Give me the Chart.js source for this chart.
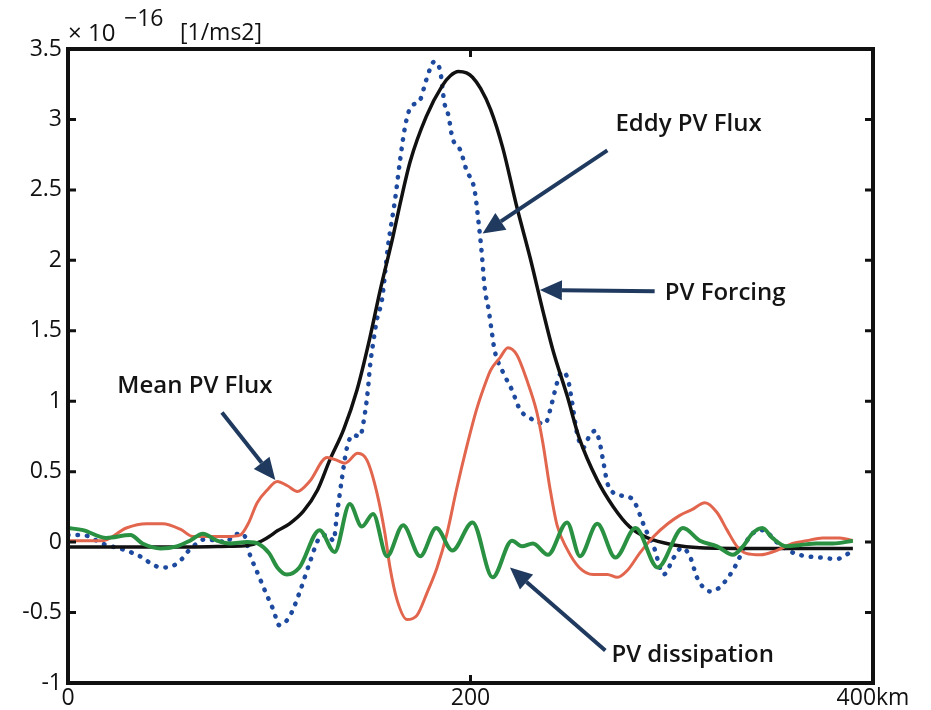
<!DOCTYPE html>
<html lang="en">
<head>
    <meta charset="UTF-8">
    <title>PV budget</title>
    <style>
        body {
            margin: 0;
            padding: 0;
            background-color: #fff;
        }

        .chart-box {
            position: relative;
            width: 931px;
            height: 710px;
        }
    </style>
</head>
<body>
    <div class="chart-box">
        <canvas id="pvChart"></canvas>
    </div>

    <script src="https://cdn.jsdelivr.net/npm/chart.js"></script>
    <script>
        // Data (x in km, y in 1e-16 1/ms2)
        const forcingKm = [0, 20, 40, 60, 80, 89, 95, 100, 104, 110, 117, 124, 130, 137, 143.6, 150, 155, 161.5, 165, 170, 178, 186, 190, 194, 198, 201, 205, 210, 216, 223, 229.6, 236, 241, 248, 254, 263, 271, 279, 288, 301, 314, 340, 370, 390];
        const forcingVal = [-0.035, -0.035, -0.035, -0.035, -0.03, -0.025, 0.0, 0.04, 0.08, 0.13, 0.22, 0.37, 0.58, 0.8, 1.08, 1.45, 1.78, 2.17, 2.4, 2.7, 3.02, 3.24, 3.31, 3.34, 3.33, 3.3, 3.22, 3.07, 2.8, 2.38, 2.02, 1.64, 1.36, 1.04, 0.74, 0.44, 0.25, 0.11, 0.03, -0.02, -0.04, -0.045, -0.045, -0.045];

        const eddyKm = [0, 7.5, 17, 29, 37, 42, 47, 52, 56.6, 60, 64, 68, 74, 79, 82, 87, 90.4, 94.5, 98, 102, 105, 110, 115, 120, 125, 129, 132, 133.5, 136, 138.6, 141.6, 145, 147.6, 149, 150, 151.6, 153.5, 156, 159, 162.5, 165, 167.5, 170, 175, 178, 182, 185, 187, 189, 191, 195, 198, 202, 204, 205.6, 207, 209, 210.5, 212, 216, 220.6, 224.6, 229.6, 237, 240.5, 243, 245.5, 248.5, 250.4, 253, 256, 259, 262, 264, 266, 268, 271, 275, 280, 283, 285, 287, 291, 296, 301, 305, 309, 312.5, 315, 319, 324, 327.5, 330.4, 333, 337, 340, 345, 353, 361, 367, 374, 382, 388];
        const eddyVal = [0.05, 0.05, -0.01, -0.06, -0.11, -0.16, -0.18, -0.17, -0.12, -0.06, -0.01, 0.02, 0.01, 0.0, 0.05, 0.06, -0.09, -0.23, -0.35, -0.48, -0.59, -0.53, -0.36, -0.15, 0.03, 0.05, 0.01, 0.18, 0.44, 0.67, 0.76, 0.75, 0.92, 1.08, 1.24, 1.41, 1.58, 1.72, 2.1, 2.43, 2.71, 2.95, 3.08, 3.14, 3.28, 3.41, 3.34, 3.12, 3.03, 2.87, 2.78, 2.64, 2.5, 2.27, 2.05, 1.81, 1.65, 1.5, 1.36, 1.21, 1.08, 0.94, 0.88, 0.84, 0.99, 1.13, 1.21, 1.15, 1.0, 0.77, 0.67, 0.75, 0.79, 0.72, 0.57, 0.42, 0.35, 0.33, 0.31, 0.24, 0.16, 0.09, -0.03, -0.23, -0.11, -0.04, -0.1, -0.25, -0.31, -0.35, -0.32, -0.26, -0.2, -0.13, 0.0, 0.06, 0.085, -0.01, -0.08, -0.1, -0.11, -0.12, -0.08];

        const meanKm = [0, 17, 29, 39, 47, 56, 62, 70.5, 79, 85.5, 89.5, 94, 99, 104, 109, 114, 120, 128.7, 133.7, 137.6, 144, 148.6, 153.5, 157.5, 160, 163.5, 168.5, 173.4, 178.4, 183.4, 188.3, 193, 198, 203, 208, 210, 214.7, 218.6, 223, 228, 233, 236, 239.5, 243, 248, 254, 261, 268, 273, 278, 284, 291, 298, 304, 310, 316.5, 322.5, 327.5, 332.4, 337, 344, 352, 360, 367, 375, 383.6, 390];
        const meanVal = [0.01, 0.01, 0.1, 0.13, 0.13, 0.09, 0.04, 0.04, 0.04, 0.05, 0.13, 0.28, 0.37, 0.43, 0.4, 0.36, 0.43, 0.6, 0.58, 0.56, 0.63, 0.58, 0.35, 0.06, -0.18, -0.41, -0.55, -0.52, -0.36, -0.18, 0.06, 0.37, 0.67, 0.94, 1.15, 1.22, 1.31, 1.38, 1.33, 1.15, 0.92, 0.7, 0.38, 0.12, -0.05, -0.18, -0.23, -0.23, -0.25, -0.2, -0.08, 0.04, 0.13, 0.19, 0.23, 0.28, 0.21, 0.085, -0.03, -0.08, -0.09, -0.06, -0.01, 0.01, 0.03, 0.03, 0.01];

        const dissKm = [0, 7.5, 19, 31, 37, 46, 54, 60.6, 67, 74, 80.5, 89, 95, 100, 104, 108.7, 115, 125, 132.5, 140, 146, 151.6, 158.5, 166.5, 175, 183, 191, 201, 211, 220.6, 225.6, 231, 238.5, 248, 254.4, 263, 272, 282, 293, 305.6, 314, 322.5, 330.4, 335.4, 340, 345, 350, 357, 364, 372, 380, 390];
        const dissVal = [0.1, 0.085, 0.03, 0.05, -0.01, -0.045, -0.03, 0.01, 0.06, 0.01, -0.01, 0.0, -0.015, -0.08, -0.18, -0.23, -0.18, 0.085, -0.07, 0.27, 0.11, 0.2, -0.1, 0.12, -0.1, 0.1, -0.06, 0.14, -0.25, 0.01, -0.03, -0.01, -0.09, 0.14, -0.1, 0.13, -0.11, 0.1, -0.18, 0.1, 0.01, -0.03, -0.09, -0.03, 0.06, 0.1, 0.03, -0.03, -0.02, -0.01, -0.01, 0.01];

        const xTicks = [0, 200, 400];
        const xTickLabels = ['0', '200', '400km'];
        const yTicks = [-1, -0.5, 0, 0.5, 1, 1.5, 2, 2.5, 3, 3.5];
        const yTickLabels = ['-1', '-0.5', '0', '0.5', '1', '1.5', '2', '2.5', '3', '3.5'];

        const FONT = "'Open Sans', sans-serif";

        function toPoints(xs, ys) {
            return xs.map(function(x, i) { return { x: x, y: ys[i] }; });
        }

        // Arrows and labels placed in data coordinates
        const notes = [
            { text: 'Eddy PV Flux', tx: 272, ty: 2.97, from: [268, 2.78], to: [206, 2.19] },
            { text: 'PV Forcing', tx: 296.5, ty: 1.77, from: [291.5, 1.78], to: [234.5, 1.79] },
            { text: 'Mean PV Flux', tx: 24.5, ty: 1.11, from: [76.5, 0.92], to: [103, 0.44] },
            { text: 'PV dissipation', tx: 270, ty: -0.8, from: [267, -0.77], to: [219.6, -0.18] }
        ];

        function drawArrow(ctx, x1, y1, x2, y2) {
            var ang = Math.atan2(y2 - y1, x2 - x1);
            var headLen = 22, headW = 10;
            var bx = x2 - headLen * Math.cos(ang);
            var by = y2 - headLen * Math.sin(ang);
            ctx.beginPath();
            ctx.moveTo(x1, y1);
            ctx.lineTo(bx, by);
            ctx.stroke();
            ctx.beginPath();
            ctx.moveTo(x2, y2);
            ctx.lineTo(bx + headW * Math.sin(ang), by - headW * Math.cos(ang));
            ctx.lineTo(bx - headW * Math.sin(ang), by + headW * Math.cos(ang));
            ctx.closePath();
            ctx.fill();
        }

        // Box frame, inward ticks, title and annotations
        const framePlugin = {
            id: 'frame',
            afterDraw: function(chart) {
                var ctx = chart.ctx;
                var a = chart.chartArea;
                var xs = chart.scales.x, ys = chart.scales.y;
                ctx.save();

                ctx.strokeStyle = '#111';
                ctx.lineWidth = 4;
                ctx.strokeRect(a.left, a.top, a.right - a.left, a.bottom - a.top);

                ctx.lineWidth = 3;
                ctx.beginPath();
                yTicks.forEach(function(v) {
                    var py = ys.getPixelForValue(v);
                    ctx.moveTo(a.left, py); ctx.lineTo(a.left + 8, py);
                    ctx.moveTo(a.right, py); ctx.lineTo(a.right - 8, py);
                });
                xTicks.forEach(function(v) {
                    var px = xs.getPixelForValue(v);
                    ctx.moveTo(px, a.bottom); ctx.lineTo(px, a.bottom - 8);
                    ctx.moveTo(px, a.top); ctx.lineTo(px, a.top + 8);
                });
                ctx.stroke();

                // exponent label
                ctx.fillStyle = '#111';
                ctx.textBaseline = 'alphabetic';
                ctx.textAlign = 'left';
                ctx.font = '500 24px ' + FONT;
                ctx.fillText('× 10', a.left, 41);
                ctx.font = '500 23px ' + FONT;
                ctx.fillText('−16', a.left + 56, 26);
                ctx.fillText('[1/ms2]', a.left + 112, 40);

                // annotations
                ctx.strokeStyle = '#1f3a5e';
                ctx.fillStyle = '#1f3a5e';
                ctx.lineWidth = 4;
                notes.forEach(function(n) {
                    drawArrow(ctx,
                        xs.getPixelForValue(n.from[0]), ys.getPixelForValue(n.from[1]),
                        xs.getPixelForValue(n.to[0]), ys.getPixelForValue(n.to[1]));
                });
                ctx.fillStyle = '#141414';
                ctx.font = '600 24px ' + FONT;
                ctx.textBaseline = 'middle';
                notes.forEach(function(n) {
                    ctx.fillText(n.text, xs.getPixelForValue(n.tx), ys.getPixelForValue(n.ty));
                });

                ctx.restore();
            }
        };

        const ctx = document.getElementById('pvChart').getContext('2d');
        const pvChart = new Chart(ctx, {
            type: 'line',
            data: {
                datasets: [
                    {
                        label: 'PV dissipation',
                        data: toPoints(dissKm, dissVal),
                        borderColor: '#2a9143',
                        borderWidth: 4
                    },
                    {
                        label: 'Mean PV Flux',
                        data: toPoints(meanKm, meanVal),
                        borderColor: '#e2664e',
                        borderWidth: 3
                    },
                    {
                        label: 'PV Forcing',
                        data: toPoints(forcingKm, forcingVal),
                        borderColor: '#111111',
                        borderWidth: 3.5
                    },
                    {
                        label: 'Eddy PV Flux',
                        data: toPoints(eddyKm, eddyVal),
                        borderColor: '#1d4a9e',
                        borderWidth: 4.5,
                        borderDash: [0.5, 9],
                        borderCapStyle: 'round'
                    }
                ]
            },
            options: {
                responsive: true,
                maintainAspectRatio: false,
                animation: false,
                elements: {
                    point: { radius: 0 },
                    line: { cubicInterpolationMode: 'monotone', fill: false }
                },
                layout: {
                    padding: { top: 49, right: 58, left: 0, bottom: 0 }
                },
                plugins: {
                    legend: { display: false },
                    tooltip: { enabled: false }
                },
                scales: {
                    x: {
                        type: 'linear',
                        min: 0,
                        max: 400,
                        grid: { display: false, drawTicks: false },
                        border: { display: false },
                        afterBuildTicks: function(scale) {
                            scale.ticks = xTicks.map(function(v) { return { value: v }; });
                        },
                        afterFit: function(scale) { scale.height = 27; },
                        ticks: {
                            padding: 2,
                            maxRotation: 0,
                            color: '#111',
                            font: { family: FONT, size: 23, weight: '500' },
                            callback: function(value) {
                                return xTickLabels[xTicks.indexOf(value)];
                            }
                        }
                    },
                    y: {
                        min: -1,
                        max: 3.5,
                        grid: { display: false, drawTicks: false },
                        border: { display: false },
                        afterBuildTicks: function(scale) {
                            scale.ticks = yTicks.map(function(v) { return { value: v }; });
                        },
                        afterFit: function(scale) { scale.width = 68; },
                        ticks: {
                            padding: 6,
                            color: '#111',
                            font: { family: FONT, size: 23, weight: '500' },
                            callback: function(value) {
                                return yTickLabels[yTicks.indexOf(value)];
                            }
                        }
                    }
                }
            },
            plugins: [framePlugin]
        });
    </script>
</body>
</html>
